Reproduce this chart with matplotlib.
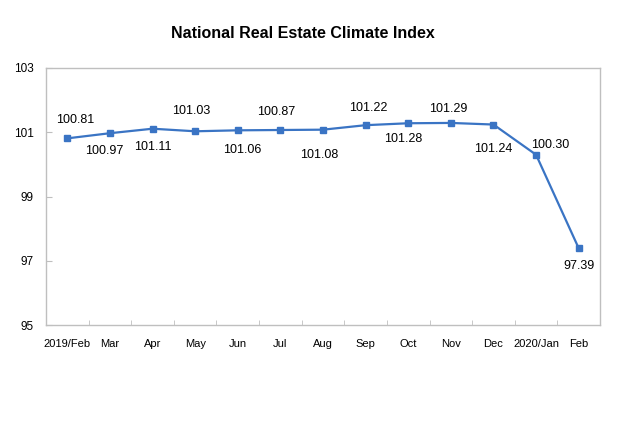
import matplotlib
matplotlib.use("Agg")
import matplotlib.pyplot as plt

categories = ["2019/Feb", "Mar", "Apr", "May", "Jun", "Jul", "Aug", "Sep",
              "Oct", "Nov", "Dec", "2020/Jan", "Feb"]
# plotted point values (as drawn in the chart)
values = [100.81, 100.97, 101.11, 101.03, 101.06, 101.07, 101.08, 101.22,
          101.28, 101.29, 101.24, 100.30, 97.39]
# data label texts as printed on the chart
labels = ["100.81", "100.97", "101.11", "101.03", "101.06", "100.87", "101.08",
          "101.22", "101.28", "101.29", "101.24", "100.30", "97.39"]
yticks = [95, 97, 99, 101, 103]
# label offsets in pixels (dx, dy), styling only
label_offsets = [(8, 18), (-6, -18), (0, -18), (-4, 20), (4, -20), (-4, 18),
                 (-4, -25), (3, 17), (-5, -16), (-3, 14), (0, -24), (14, 10), (0, -18)]

plt.rcParams['font.family'] = ['Liberation Sans', 'DejaVu Sans']

fig = plt.figure(figsize=(6.17, 4.26), dpi=100)
ax = fig.add_axes([46/617, 1-325/426, (600-46)/617, (325-68)/426])

x = list(range(len(categories)))
color = "#3A74C4"
ax.plot(x, values, color=color, lw=1.6, marker="s", markersize=4.2,
        markerfacecolor=color, markeredgecolor=color)

for xi, v, t, (dx, dy) in zip(x, values, labels, label_offsets):
    ax.annotate(t, (xi, v), xytext=(dx, dy), textcoords="offset pixels",
                ha="center", va="center", fontsize=9, color="black")

ax.set_xlim(-0.5, len(categories) - 0.5)
ax.set_ylim(95, 103)
ax.set_yticks(yticks)
ax.set_yticklabels([str(t) for t in yticks], fontsize=8.5)
ax.set_xticks(x)
ax.set_xticklabels(categories, fontsize=8)
ax.tick_params(axis="x", length=0, pad=10)
ax.set_xticks([i + 0.5 for i in x[:-1]], minor=True)
ax.tick_params(axis="x", which="minor", direction="in", length=3.5, color="#BFBFBF")
ax.tick_params(axis="y", direction="in", length=4, color="#BFBFBF", pad=9)

for s in ax.spines.values():
    s.set_color("#BFBFBF")
    s.set_linewidth(1.0)

fig.text(303/617, 1-34/426, "National Real Estate Climate Index", ha="center",
         va="center", fontsize=11.5, fontweight="bold")

fig.savefig("out.png", dpi=100)
